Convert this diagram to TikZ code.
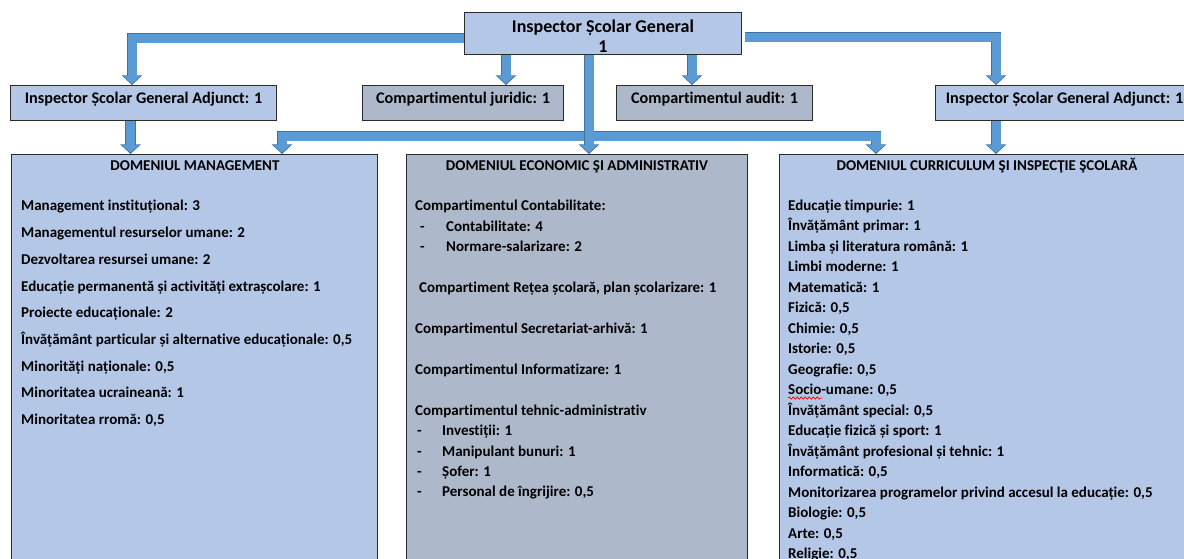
\documentclass[tikz,border=0pt]{standalone}
\usepackage{fontspec}
\setmainfont{Carlito}[Ligatures=NoCommon]
\usetikzlibrary{arrows.meta,calc,decorations.pathmorphing}
\definecolor{lblue}{HTML}{B4C7E7}
\definecolor{gblue}{HTML}{ADB9CA}
\definecolor{arr}{HTML}{5B9BD5}
\definecolor{arrdark}{HTML}{41719C}
\definecolor{bord}{HTML}{2B2B2B}
\begin{document}
\begin{tikzpicture}[x=1pt,y=-1pt,
  box/.style={draw=bord,line width=1.2pt,anchor=north west,inner sep=0pt,align=center,
    text height=12pt,text depth=11pt,font=\fontsize{16.2}{20}\selectfont\bfseries},
  bluebox/.style={box,fill=lblue},
  greybox/.style={box,fill=gblue},
  big/.style={draw=bord,line width=1.2pt,anchor=north west,inner sep=0pt},
  toptxt/.style={anchor=base,inner sep=0pt,font=\fontsize{18}{20}\selectfont\bfseries},
  txt/.style={anchor=base west,inner sep=0pt,font=\fontsize{15}{17}\selectfont\bfseries},
  ttl/.style={anchor=base,inner sep=0pt,font=\fontsize{15}{17}\selectfont\bfseries},
  conn/.style={draw=arr,line width=9pt,shorten >=1.3pt,-{Triangle[width=17pt,length=7.8pt]},
    preaction={draw=arrdark,line width=10.6pt,shorten >=0pt,-{Triangle[width=20pt,length=9.6pt]}}},
  conn2/.style={draw=arr,line width=9pt,shorten >=1.3pt,shorten <=1.3pt,
    {Triangle[width=17pt,length=7.8pt]}-{Triangle[width=17pt,length=7.8pt]},
    preaction={draw=arrdark,line width=10.6pt,shorten >=0pt,shorten <=0pt,
    {Triangle[width=20pt,length=9.6pt]}-{Triangle[width=20pt,length=9.6pt]}}},
  squig/.style={draw=red,line width=0.7pt,decorate,decoration={snake,amplitude=1.2pt,segment length=4pt}}]
\useasboundingbox (0,0) rectangle (1184,558);
\fill[white] (0,0) rectangle (1184,558);
\clip (0,0) rectangle (1184,558);

% boxes
\node[big,fill=lblue,minimum width=277pt,minimum height=42pt] (top) at (464,12) {};
\node[toptxt] (top1) at (603,32.3) {Inspector Școlar General};
\node[toptxt] (top2) at (603,52) {1};
\node[bluebox,minimum width=266pt,minimum height=35pt] (isga1) at (10,85) {Inspector Școlar General Adjunct: 1};
\node[greybox,minimum width=201pt,minimum height=35pt] (jur) at (362,85) {Compartimentul juridic: 1};
\node[greybox,minimum width=196pt,minimum height=35pt] (aud) at (616,85) {Compartimentul audit: 1};
\node[bluebox,minimum width=258pt,minimum height=35pt] (isga2) at (935,85) {Inspector Școlar General Adjunct: 1};
\node[big,fill=lblue,minimum width=366pt,minimum height=450pt] (mgmt) at (11,154) {};
\node[big,fill=gblue,minimum width=341pt,minimum height=450pt] (eco) at (406,154) {};
\node[big,fill=lblue,minimum width=416pt,minimum height=450pt] (curr) at (779,154) {};

% connector coordinates
\coordinate (bL) at (132,38);
\coordinate (bR) at (996,37);
\coordinate (hL) at (282,136);
\coordinate (hR) at (876,136);
\coordinate (aJ) at (506,0);
\coordinate (aA) at (692,0);
\coordinate (aC) at (589,0);
\coordinate (aL) at (130.5,0);

% connectors
\draw[conn] (top.west |- bL) -- (bL) -- (bL |- isga1.north);
\draw[conn] ($(top.east |- bR)+(3,0)$) -- (bR) -- (bR |- isga2.north);
\draw[conn] (top.south -| aJ) -- (jur.north -| aJ);
\draw[conn] (top.south -| aA) -- (aud.north -| aA);
\draw[conn2] (mgmt.north -| hL) -- (hL) -- (hR) -- (hR |- curr.north);
\draw[conn] (top.south -| aC) -- (eco.north -| aC);
\draw[conn] (isga1.south -| aL) -- (mgmt.north -| aL);
\draw[conn] (isga2.south -| bR) -- (curr.north -| bR);

% titles
\node[ttl] (mt) at (195,170) {DOMENIUL MANAGEMENT};
\node[ttl] (et) at (577,170) {DOMENIUL ECONOMIC ŞI ADMINISTRATIV};
\node[ttl] (ct) at (987,170) {DOMENIUL CURRICULUM ŞI INSPECŢIE ŞCOLARĂ};

% management
\node[txt] (m1) at (21,210) {Management instituțional: 3};
\node[txt] (m2) at (21,237) {Managementul resurselor umane: 2};
\node[txt] (m3) at (21,264) {Dezvoltarea resursei umane: 2};
\node[txt] (m4) at (21,291) {Educație permanentă și activități extrașcolare: 1};
\node[txt] (m5) at (21,317) {Proiecte educaționale: 2};
\node[txt] (m6) at (21,344) {Învățământ particular și alternative educaționale: 0,5};
\node[txt] (m7) at (21,371) {Minorități naționale: 0,5};
\node[txt] (m8) at (21,397) {Minoritatea ucraineană: 1};
\node[txt] (m9) at (21,424) {Minoritatea rromă: 0,5};

% economic
\node[txt] (e1) at (415,210) {Compartimentul Contabilitate:};
\node[txt] (e2) at (420,231) {\makebox[26pt][l]{-}Contabilitate: 4};
\node[txt] (e3) at (420,251) {\makebox[26pt][l]{-}Normare-salarizare: 2};
\node[txt] (e4) at (419,292) {Compartiment Rețea școlară, plan școlarizare: 1};
\node[txt] (e5) at (415,333) {Compartimentul Secretariat-arhivă: 1};
\node[txt] (e6) at (415,374) {Compartimentul Informatizare: 1};
\node[txt] (e7) at (415,415) {Compartimentul tehnic-administrativ};
\node[txt] (e8) at (417,435) {\makebox[25pt][l]{-}Investiții: 1};
\node[txt] (e9) at (417,456) {\makebox[25pt][l]{-}Manipulant bunuri: 1};
\node[txt] (e10) at (417,476) {\makebox[25pt][l]{-}Șofer: 1};
\node[txt] (e11) at (417,496) {\makebox[25pt][l]{-}Personal de îngrijire: 0,5};

% curriculum
\node[txt] (c1) at (788,210) {Educație timpurie: 1};
\node[txt] (c2) at (788,230.5) {Învățământ primar: 1};
\node[txt] (c3) at (788,251) {Limba și literatura română: 1};
\node[txt] (c4) at (788,271.5) {Limbi moderne: 1};
\node[txt] (c5) at (788,292) {Matematică: 1};
\node[txt] (c6) at (788,312.5) {Fizică: 0,5};
\node[txt] (c7) at (788,333) {Chimie: 0,5};
\node[txt] (c8) at (788,353.5) {Istorie: 0,5};
\node[txt] (c9) at (788,374) {Geografie: 0,5};
\node[txt] (c10) at (788,394.5) {Socio-umane: 0,5};
\node[txt] (c11) at (788,415) {Învățământ special: 0,5};
\node[txt] (c12) at (788,435.5) {Educație fizică și sport: 1};
\node[txt] (c13) at (788,456) {Învățământ profesional și tehnic: 1};
\node[txt] (c14) at (788,476.5) {Informatică: 0,5};
\node[txt] (c15) at (788,497) {Monitorizarea programelor privind accesul la educație: 0,5};
\node[txt] (c16) at (788,517.5) {Biologie: 0,5};
\node[txt] (c17) at (788,538) {Arte: 0,5};
\node[txt] (c18) at (788,558.5) {Religie: 0,5};
\draw[squig] ($(c10.base west)+(0,3.5)$) -- ++(34,0);
\end{tikzpicture}
\end{document}
